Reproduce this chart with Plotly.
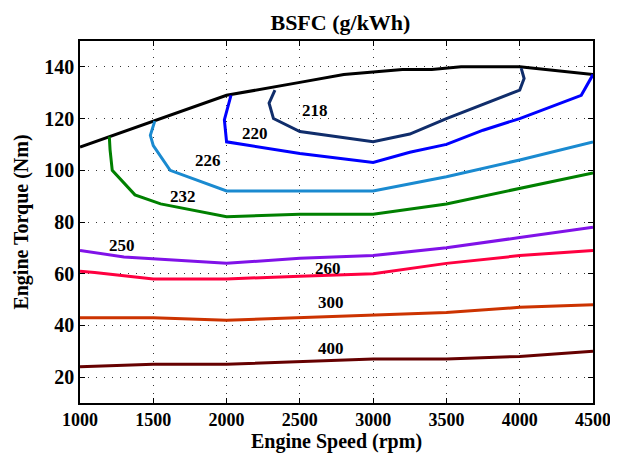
import plotly.graph_objects as go

# Max torque curve
max_rpm = [1000, 1200, 1500, 2000, 2500, 2800, 3000, 3200, 3400, 3600, 4000, 4500]
max_nm = [109, 113, 119, 129, 134, 137, 138, 139, 139, 140, 140, 137]

# BSFC iso-lines (g/kWh)
c218_rpm = [2330, 2290, 2320, 2500, 3000, 3250, 3500, 3750, 4000, 4030, 4010]
c218_nm = [131, 126, 120, 115, 111, 114, 120, 125.5, 131, 135.5, 139.5]

c220_rpm = [2030, 1985, 2000, 2500, 3000, 3250, 3500, 3750, 4000, 4420, 4500]
c220_nm = [129, 119.5, 111, 106.5, 103, 107, 110, 115.5, 120, 129, 137]

c226_rpm = [1510, 1480, 1500, 1615, 2000, 3000, 3500, 4000, 4500]
c226_nm = [119, 113.5, 109.5, 100, 92, 92, 97.5, 104, 111]

c232_rpm = [1200, 1205, 1220, 1375, 1550, 2000, 2500, 3000, 3500, 4000, 4500]
c232_nm = [113, 108, 100, 90.5, 87, 82, 83, 83, 87, 93, 99]

c250_rpm = [1000, 1300, 2000, 2500, 3000, 3500, 4000, 4500]
c250_nm = [69, 66.5, 64, 66, 67, 70, 74, 78]

c260_rpm = [1000, 1100, 1500, 2000, 2500, 3000, 3500, 4000, 4500]
c260_nm = [61, 60.5, 58, 58, 59, 60, 64, 67, 69]

c300_rpm = [1000, 1500, 2000, 2500, 3000, 3500, 4000, 4500]
c300_nm = [43, 43, 42, 43, 44, 45, 47, 48]

c400_rpm = [1000, 1500, 2000, 2500, 3000, 3500, 4000, 4500]
c400_nm = [24, 25, 25, 26, 27, 27, 28, 30]

labels = ["218", "220", "226", "232", "250", "260", "300", "400"]
label_rpm = [2600, 2195, 1875, 1705, 1285, 2695, 2710, 2710]
label_nm = [123.3, 114.4, 103.6, 90, 70.8, 62.2, 49, 31]

x_ticks = [1000, 1500, 2000, 2500, 3000, 3500, 4000, 4500]
y_ticks = [20, 40, 60, 80, 100, 120, 140]

series = [
    (max_rpm, max_nm, "#000000"),
    (c218_rpm, c218_nm, "#102d6b"),
    (c220_rpm, c220_nm, "#0000ff"),
    (c226_rpm, c226_nm, "#1a8ad0"),
    (c232_rpm, c232_nm, "#008000"),
    (c250_rpm, c250_nm, "#8012e8"),
    (c260_rpm, c260_nm, "#ff0040"),
    (c300_rpm, c300_nm, "#cc3300"),
    (c400_rpm, c400_nm, "#660000"),
]

FONT = "Liberation Serif"

fig = go.Figure()
for xs, ys, col in series:
    fig.add_trace(go.Scatter(x=xs, y=ys, mode="lines",
                             line=dict(color=col, width=3),
                             showlegend=False, hoverinfo="skip"))

for t, xv, yv in zip(labels, label_rpm, label_nm):
    fig.add_annotation(x=xv, y=yv, text=t, showarrow=False,
                       font=dict(family=FONT, size=17, color="black", weight="bold"))

axis_common = dict(
    showline=True, linecolor="black", linewidth=1.5, mirror="ticks",
    ticks="inside", ticklen=5, tickcolor="black",
    showgrid=True, gridcolor="#333333", gridwidth=1, griddash="1px,7px",
    zeroline=False, automargin=False, ticklabeloverflow="allow",
)

# page body has an 8px default margin; size the figure so the page does not overflow
fig.update_layout(
    width=610, height=449,
    margin=dict(l=72, r=25, t=33, b=54),
    paper_bgcolor="white", plot_bgcolor="white",
    title=dict(text="BSFC (g/kWh)", x=0.545, xanchor="center",
               y=1 - 14 / 449, yanchor="middle", yref="container", automargin=False,
               font=dict(family=FONT, size=22, color="black", weight="bold")),
    xaxis=dict(range=[1000, 4500], tickvals=x_ticks,
               tickfont=dict(family=FONT, size=18, color="black", weight="bold"),
               title=dict(text="Engine Speed (rpm)", standoff=0,
                          font=dict(family=FONT, size=20, color="black", weight="bold")),
               **axis_common),
    yaxis=dict(range=[10, 150], tickvals=y_ticks,
               tickfont=dict(family=FONT, size=20, color="black", weight="bold"),
               title=dict(text="Engine Torque (Nm)", standoff=10,
                          font=dict(family=FONT, size=20, color="black", weight="bold")),
               **axis_common),
)

fig.write_html("out.html")
